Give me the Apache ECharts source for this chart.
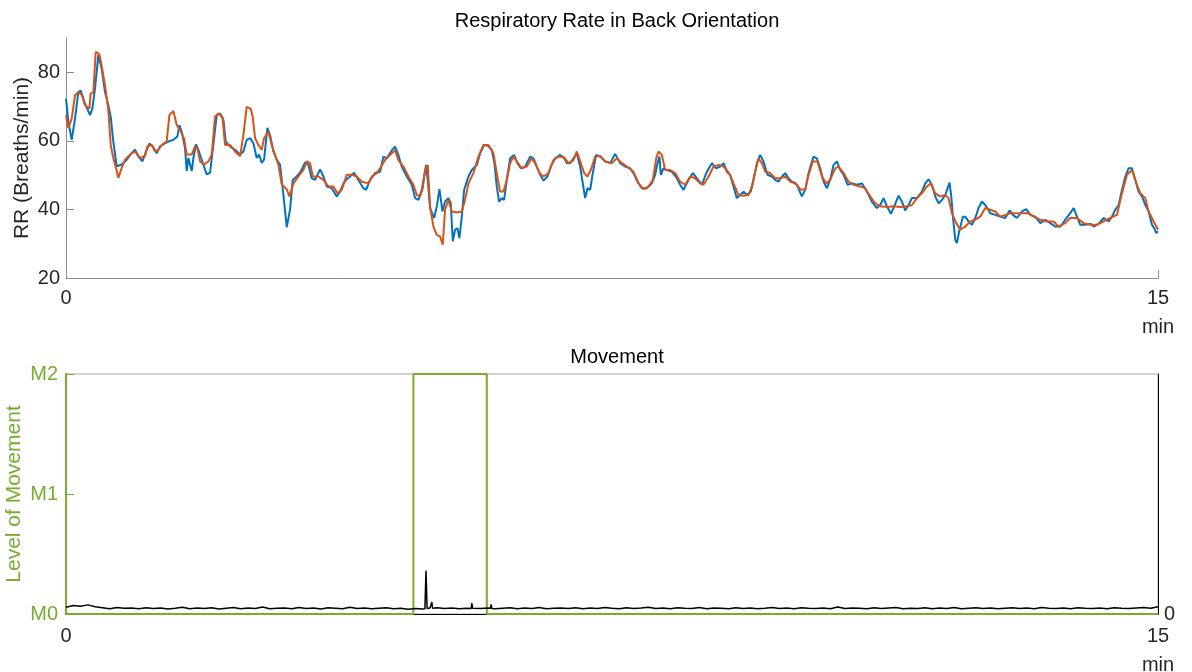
<!DOCTYPE html>
<html><head><meta charset="utf-8">
<script src="https://cdn.jsdelivr.net/npm/echarts@6/dist/echarts.min.js"></script>
<style>html,body{margin:0;padding:0;background:#fff}#c{width:1192px;height:672px}</style>
</head><body><div id="c"></div>
<script>
// Respiratory rate, estimated reference (blue) — [minutes, breaths/min]
const rrBlue = [[0,72.3],[0.032,65.6],[0.078,60.3],[0.124,66.5],[0.169,74.2],[0.202,74.7],[0.261,70.9],[0.330,67.5],[0.362,69.4],[0.398,75.2],[0.444,85],[0.490,81],[0.536,74.2],[0.582,70.4],[0.614,67],[0.650,59.8],[0.696,52.6],[0.765,53.1],[0.834,54.5],[0.902,56.4],[0.948,57.4],[0.994,55.5],[1.049,54],[1.099,56.9],[1.145,59.2],[1.191,58.4],[1.246,56.4],[1.292,58.4],[1.360,59.3],[1.406,59.8],[1.475,60.3],[1.530,61.3],[1.557,64.6],[1.589,62.7],[1.635,57.9],[1.658,51.2],[1.681,55],[1.704,54.5],[1.727,51.2],[1.750,55],[1.786,59],[1.818,57.4],[1.864,54.5],[1.933,50.2],[1.979,50.7],[2.024,58.8],[2.070,67.5],[2.116,68],[2.162,66.1],[2.194,59.8],[2.253,58.4],[2.322,57.4],[2.391,56],[2.437,56.9],[2.482,60.3],[2.528,60.8],[2.574,59.3],[2.620,55],[2.652,56],[2.688,53.6],[2.721,54.5],[2.766,63.8],[2.803,61.7],[2.849,56.9],[2.895,54.5],[2.940,53.1],[2.986,44.4],[3.032,34.8],[3.078,40],
[3.114,48.6],[3.169,49.6],[3.224,51.0],[3.284,53.7],[3.330,53],[3.375,49.1],[3.421,48.6],[3.490,51.7],[3.536,49.6],[3.582,46.7],[3.650,46.2],[3.719,43.8],[3.765,45.2],[3.811,47.6],[3.856,48.8],[3.902,49.6],[3.957,50.7],[4.017,48.6],[4.085,46.2],[4.122,45.7],[4.177,48.6],[4.246,50.6],[4.314,51.0],[4.360,55.4],[4.406,54.9],[4.475,57.2],[4.520,58.3],[4.566,55.9],[4.612,52.5],[4.681,49.6],[4.750,47.2],[4.795,43.3],[4.841,42.8],[4.887,45.7],[4.919,49.6],[4.946,53],[4.969,48.6],[5.001,40.4],[5.056,37.5],[5.093,40.8],[5.130,45.9],[5.171,39.4],[5.207,42.3],[5.253,43.3],[5.285,41.8],[5.313,30.7],[5.345,34.1],[5.377,34.5],[5.404,31.6],[5.437,38],[5.469,45.7],[5.528,49.6],[5.574,51.5],[5.643,53],[5.688,56.4],[5.743,58.8],[5.803,58.5],[5.849,57.3],[5.885,53.5],[5.917,46.7],[5.949,42.3],[5.986,43.3],[6.018,42.8],[6.055,48.6],[6.101,54.9],
[6.155,55.9],[6.201,53.5],[6.247,52],[6.307,52.5],[6.375,55.4],[6.421,54.9],[6.467,52.5],[6.513,50.1],[6.559,48.4],[6.614,49.6],[6.659,52.5],[6.719,54.9],[6.788,55.9],[6.843,54.9],[6.879,53.5],[6.925,53.5],[6.971,54.9],[7.017,56.4],[7.062,52.5],[7.099,47.6],[7.131,43.3],[7.163,46.2],[7.200,45.7],[7.236,50.6],[7.282,55.9],[7.337,55.4],[7.406,54],[7.475,53.5],[7.543,56.2],[7.612,53.5],[7.681,52.5],[7.749,52],[7.795,50.6],[7.850,48.1],[7.910,46.2],[7.978,46.2],[8.047,47.6],[8.093,50.1],[8.125,53.5],[8.152,55.4],[8.171,50.1],[8.207,52],[8.253,51.5],[8.322,51],[8.391,49.1],[8.436,47.2],[8.482,45.7],[8.551,48.6],[8.610,50.6],[8.665,49.1],[8.734,47.2],[8.803,51.0],[8.872,53.5],[8.931,52],[8.986,52.5],[9.032,53.5],[9.077,51],[9.123,50],
[9.169,46.7],[9.215,43.3],[9.261,44.2],[9.307,45.2],[9.352,44.2],[9.407,45.2],[9.444,48.6],[9.490,53.5],[9.536,55.9],[9.581,54],[9.636,50.1],[9.696,49.6],[9.742,48.6],[9.787,48.1],[9.833,49.6],[9.879,50.6],[9.925,49.1],[9.971,48.1],[10.039,47.2],[10.108,43.8],[10.154,45.7],[10.200,50.6],[10.268,55.4],[10.314,54.9],[10.360,52],[10.406,48.1],[10.452,46.2],[10.497,48.6],[10.543,53],[10.589,54],[10.635,51.5],[10.681,50.1],[10.736,47.2],[10.795,47.6],[10.864,47.2],[10.933,47.6],[11.001,45.2],[11.070,42.3],[11.139,40.4],[11.184,41.3],[11.230,43.3],[11.276,40.9],[11.331,38.7],[11.377,40.9],[11.436,44],[11.482,42.3],[11.528,39.7],[11.574,41.3],[11.620,43.3],[11.688,43.3],[11.757,45.2],[11.803,47.6],[11.848,48.8],[11.894,47.2],[11.940,43.8],[11.986,41.8],[12.032,42.8],[12.078,44.2],[12.137,47.8],
[12.160,43.8],[12.183,37.9],[12.215,31.1],[12.238,30.2],[12.274,34.1],[12.320,37.9],[12.352,37.9],[12.398,36.5],[12.444,35.5],[12.490,37.5],[12.535,40.4],[12.581,42.3],[12.627,41.3],[12.696,38.9],[12.765,38.4],[12.833,37.9],[12.902,37.5],[12.961,39.7],[13.007,38.4],[13.062,37.5],[13.131,39.4],[13.190,40.1],[13.245,38.4],[13.314,37.9],[13.383,36],[13.451,37],[13.520,36],[13.589,35],[13.658,35],[13.726,37],[13.795,38.9],[13.841,40.4],[13.887,37.9],[13.932,35.5],[14.001,35.5],[14.070,35.8],[14.116,35],[14.184,35.8],[14.253,37.5],[14.322,36.5],[14.368,37.9],[14.413,39.9],[14.459,41.3],[14.505,45.7],[14.551,49.6],[14.596,52],[14.642,52],[14.688,48.6],[14.734,45.2],[14.780,43.8],[14.826,41.3],[14.871,39.4],[14.917,35.5],[14.949,34.5],[14.977,33.1],[15.0,33.6]];

// Respiratory rate, estimated from sensor (orange) — [minutes, breaths/min]
const rrOrange = [[0,67.5],[0.032,63.7],[0.078,66.5],[0.124,73.3],[0.169,74.2],[0.215,73.5],[0.261,70.4],[0.321,69.4],[0.339,73.8],[0.376,74.2],[0.408,86],[0.458,85.3],[0.490,81.9],[0.536,76.2],[0.582,68.9],[0.614,58.8],[0.650,55],[0.687,52.1],[0.719,49.2],[0.765,52.1],[0.811,54.5],[0.879,56],[0.948,56.9],[1.017,55],[1.085,55.5],[1.118,58.4],[1.177,58.8],[1.223,56.9],[1.269,57.4],[1.314,58.8],[1.383,59.8],[1.420,67.5],[1.475,68.7],[1.521,64.6],[1.576,62.7],[1.621,60.8],[1.658,56],[1.727,56],[1.772,58.4],[1.805,57.9],[1.841,54],[1.896,53.1],[1.956,54],[2.002,56],[2.047,67],[2.093,68],[2.148,67],[2.185,58.8],[2.253,58.8],[2.322,56.9],[2.391,55.5],[2.437,61.7],[2.482,69.9],[2.537,69.4],[2.565,67],[2.597,60.8],[2.643,58.8],[2.688,57.4],[2.721,60.8],[2.780,62.7],[2.826,58.8],[2.885,55],[2.917,53.1],[2.963,47.3],[3.032,45.9],
[3.069,43.8],[3.124,47.6],[3.192,49.6],[3.261,51.5],[3.307,54],[3.353,53.5],[3.389,49.6],[3.467,49.6],[3.536,48.6],[3.604,46.7],[3.673,46.7],[3.728,44.7],[3.788,45.7],[3.856,50.1],[3.925,50.1],[3.994,49.6],[4.062,48.1],[4.154,47.6],[4.200,49.6],[4.269,50.6],[4.314,52],[4.383,54.4],[4.452,55.9],[4.520,57.3],[4.566,54.4],[4.635,52.5],[4.704,49.6],[4.772,47.2],[4.818,44.2],[4.864,43.8],[4.901,46.2],[4.933,51.5],[4.969,53],[5.001,40.8],[5.047,35],[5.093,32.6],[5.139,32.1],[5.175,29.7],[5.207,39.9],[5.253,42.8],[5.299,39.4],[5.368,39.1],[5.437,39.4],[5.482,42.8],[5.528,47.6],[5.597,50.6],[5.665,55.4],[5.734,58.8],[5.803,58.8],[5.872,56.4],[5.917,50.6],[5.963,45.2],[6.009,45.2],[6.055,48.6],[6.101,53.5],
[6.146,55.4],[6.192,54],[6.261,52],[6.330,52.5],[6.398,54.9],[6.444,53.5],[6.504,50.6],[6.559,49.6],[6.627,50.6],[6.696,54.4],[6.765,55.4],[6.833,55.4],[6.902,53.5],[6.971,54.4],[7.017,56.9],[7.072,53.5],[7.117,50.6],[7.163,49.6],[7.209,51.5],[7.268,55.4],[7.337,55.6],[7.406,54],[7.498,53.5],[7.566,54.9],[7.635,53.5],[7.704,52.5],[7.795,51],[7.864,47.6],[7.932,45.9],[8.001,46.7],[8.061,48.6],[8.107,54.9],[8.139,56.9],[8.185,55.9],[8.230,51.5],[8.299,51.5],[8.368,50.6],[8.436,48.1],[8.505,47.2],[8.574,49.6],[8.642,49.1],[8.711,47.6],[8.757,47.2],[8.826,49.6],[8.894,52.5],[8.963,53],[9.032,52.5],[9.077,51.5],[9.123,50],
[9.169,47.6],[9.238,44.2],[9.307,44],[9.375,44.2],[9.421,46.7],[9.467,51.0],[9.513,54.9],[9.558,53.5],[9.604,51.0],[9.673,50.6],[9.742,49.1],[9.810,49.1],[9.879,49.6],[9.948,48.1],[10.016,47.8],[10.085,45.9],[10.154,45.7],[10.200,50.1],[10.259,54],[10.323,54],[10.383,49.6],[10.443,47.6],[10.497,48.6],[10.566,52],[10.612,52.5],[10.681,50.6],[10.749,48.1],[10.818,47.2],[10.910,46.7],[10.978,46.2],[11.047,43.8],[11.116,41.8],[11.184,40.9],[11.276,40.7],[11.368,40.9],[11.459,40.7],[11.551,40.9],[11.620,41.3],[11.688,43.3],[11.757,44.7],[11.826,46.7],[11.881,47.6],[11.940,44.7],[12.009,43.8],[12.078,44.2],[12.123,43.3],
[12.169,38.9],[12.229,36],[12.284,34.1],[12.352,35],[12.421,36.5],[12.490,37],[12.558,37.9],[12.627,40.4],[12.696,39.9],[12.765,39.4],[12.833,37.9],[12.902,38.4],[12.971,38.9],[13.062,38.9],[13.154,38.9],[13.222,38.9],[13.291,37.9],[13.383,37],[13.474,36.5],[13.566,36.5],[13.635,35],[13.726,36],[13.795,37.5],[13.887,37.5],[13.978,36],[14.070,35.5],[14.161,35.5],[14.253,36.5],[14.345,37.5],[14.436,38.4],[14.505,44.7],[14.574,50.1],[14.642,51.5],[14.711,47.2],[14.757,44.7],[14.826,43.3],[14.871,39.4],[14.940,36.5],[15.0,34.1]];

// Movement level (0 = M0, 2 = M2): [minutes, level]
const levelSteps = [[0,0],[4.772,2],[5.78,0],[15,0]];

// Raw movement signal (right axis), one value every 0.1 min from 0 to 15
const movementStepMin = 0.1;
const movementSignal = [0.028,0.035,0.032,0.038,0.030,0.026,0.022,0.027,0.024,0.025,
0.022,0.026,0.023,0.025,0.021,0.024,0.028,0.022,0.025,0.023,
0.026,0.021,0.024,0.027,0.022,0.025,0.023,0.029,0.022,0.024,
0.025,0.022,0.027,0.023,0.025,0.021,0.026,0.024,0.022,0.028,
0.023,0.025,0.022,0.024,0.026,0.022,0.024,0.020,0.023,0.021,
0.025,0.026,0.023,0.025,0.022,0.024,0.027,0.023,0.025,0.022,
0.024,0.026,0.022,0.025,0.023,0.027,0.022,0.024,0.025,0.023,
0.026,0.022,0.025,0.023,0.027,0.024,0.022,0.026,0.023,0.025,
0.028,0.023,0.025,0.022,0.026,0.024,0.023,0.027,0.022,0.025,
0.024,0.022,0.026,0.023,0.025,0.022,0.024,0.027,0.023,0.025,
0.022,0.026,0.024,0.023,0.025,0.022,0.029,0.023,0.025,0.024,
0.022,0.026,0.023,0.025,0.027,0.022,0.024,0.023,0.026,0.022,
0.025,0.023,0.027,0.022,0.024,0.026,0.023,0.025,0.022,0.024,
0.026,0.023,0.025,0.022,0.027,0.024,0.023,0.025,0.022,0.026,
0.024,0.023,0.025,0.022,0.026,0.024,0.023,0.025,0.027,0.024,0.030];
// Short bursts in the raw movement signal
const burstTime  = [4.93, 4.945, 4.96, 5.015, 5.025, 5.035, 5.565, 5.574, 5.585, 5.83, 5.84, 5.85];
const burstLevel = [0.022, 0.18, 0.023, 0.024, 0.05, 0.024, 0.023, 0.045, 0.024, 0.024, 0.04, 0.023];

const levelLabels = ['M0','M1','M2'];

const movementData = movementSignal.map((v,i)=>[+(i*movementStepMin).toFixed(2), v])
  .concat(burstTime.map((t,i)=>[t, burstLevel[i]]))
  .sort((a,b)=>a[0]-b[0]);

const FONT = '"Liberation Sans", Arial, Helvetica, sans-serif';
const GREEN = '#77AC30';
const TXT = '#262626';
const AX = '#8c8c8c';

const chart = echarts.init(document.getElementById('c'), null, {renderer:'canvas'});
chart.setOption({
  animation: false,
  backgroundColor: '#fff',
  textStyle: {fontFamily: FONT},
  title: [
    {text:'Respiratory Rate in Back Orientation', left:612, top:6, textAlign:'center',
     textStyle:{fontFamily:FONT, fontSize:20, fontWeight:'normal', color:'#000'}},
    {text:'Movement', left:612, top:342, textAlign:'center',
     textStyle:{fontFamily:FONT, fontSize:20, fontWeight:'normal', color:'#000'}}
  ],
  grid: [
    {left:66, right:34, top:38, height:240, outerBoundsMode:'none', containLabel:false},
    {left:66, right:34, top:374, height:240, outerBoundsMode:'none', containLabel:false,
     show:true, borderColor:'#a6a6a6', borderWidth:1, backgroundColor:'transparent'}
  ],
  xAxis: [
    {type:'value', gridIndex:0, min:0, max:15,
     axisLine:{lineStyle:{color:AX, width:1}},
     axisTick:{inside:true, length:8, customValues:[15], lineStyle:{color:AX}},
     axisLabel:{customValues:[0,15], formatter:v=> v===15 ? '15\nmin' : String(v),
       fontFamily:FONT, fontSize:20, color:TXT, margin:6, lineHeight:29},
     splitLine:{show:false}},
    {type:'value', gridIndex:1, min:0, max:15,
     axisLine:{lineStyle:{color:'#000', width:1}},
     axisTick:{inside:true, length:8, customValues:[15], lineStyle:{color:'#000'}},
     axisLabel:{customValues:[0,15], formatter:v=> v===15 ? '15\nmin' : String(v),
       fontFamily:FONT, fontSize:20, color:TXT, margin:8, lineHeight:29},
     splitLine:{show:false}}
  ],
  yAxis: [
    {type:'value', gridIndex:0, min:20, max:90,
     name:'RR (Breaths/min)', nameLocation:'middle', nameGap:33, nameMoveOverlap:false,
     nameTextStyle:{fontFamily:FONT, fontSize:21, color:TXT},
     axisLine:{show:true, lineStyle:{color:AX, width:1}},
     axisTick:{show:true, inside:true, length:8, customValues:[40,60,80], lineStyle:{color:AX}},
     axisLabel:{customValues:[20,40,60,80], fontFamily:FONT, fontSize:20, color:TXT, margin:6},
     splitLine:{show:false}},
    {type:'value', gridIndex:1, min:0, max:2, interval:1,
     name:'Level of Movement', nameLocation:'middle', nameGap:41, nameMoveOverlap:false,
     nameTextStyle:{fontFamily:FONT, fontSize:21, color:GREEN},
     axisLine:{show:true, lineStyle:{color:GREEN, width:2}},
     axisTick:{show:true, inside:true, length:8, lineStyle:{color:GREEN}},
     axisLabel:{formatter:v=>levelLabels[v], fontFamily:FONT, fontSize:20, color:GREEN, margin:8},
     splitLine:{show:false}},
    {type:'value', gridIndex:1, position:'right', min:0, max:1,
     axisLine:{show:true, lineStyle:{color:'#000', width:1}},
     axisTick:{show:true, inside:true, length:8, customValues:[0], lineStyle:{color:'#000'}},
     axisLabel:{customValues:[0], fontFamily:FONT, fontSize:20, color:TXT, margin:6},
     splitLine:{show:false}}
  ],
  series: [
    {type:'line', xAxisIndex:0, yAxisIndex:0, data:rrBlue, showSymbol:false, symbol:'none',
     lineStyle:{color:'#0072BD', width:2}, z:3},
    {type:'line', xAxisIndex:0, yAxisIndex:0, data:rrOrange, showSymbol:false, symbol:'none',
     lineStyle:{color:'#D95319', width:2}, z:4},
    {type:'line', xAxisIndex:1, yAxisIndex:1, data:levelSteps, step:'end', showSymbol:false, symbol:'none',
     lineStyle:{color:GREEN, width:2}, z:3},
    {type:'line', xAxisIndex:1, yAxisIndex:2, data:movementData, showSymbol:false, symbol:'none',
     lineStyle:{color:'#000', width:1.5}, z:4}
  ]
});
</script>
</body></html>
